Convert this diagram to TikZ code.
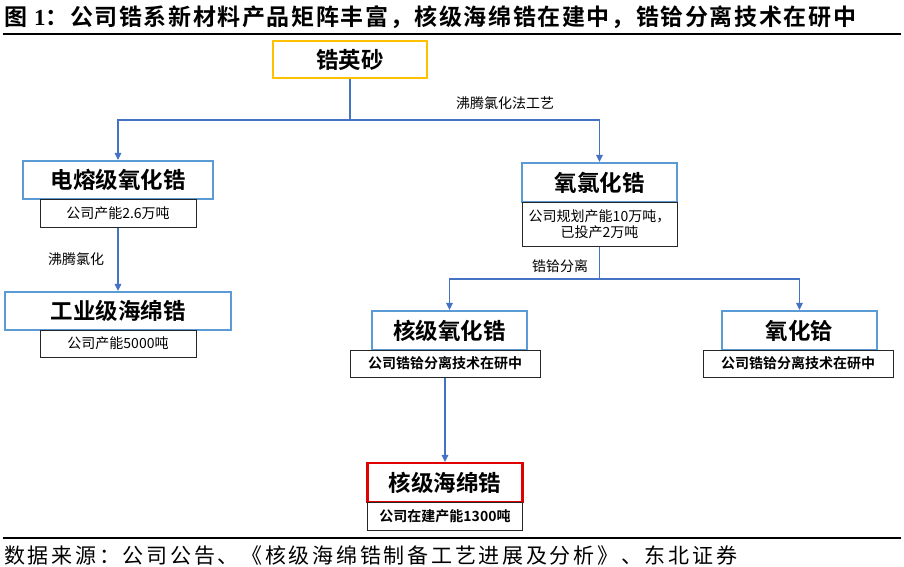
\documentclass[tikz,border=0pt]{standalone}
\usepackage{fontspec}
\usepackage{tikz}
\usetikzlibrary{arrows.meta}
\newfontfamily\cjk{Noto Sans CJK SC}[BoldFont={Noto Sans CJK SC Bold}]
\newfontfamily\cjktitle{Noto Sans CJK SC Bold}[LetterSpace=7]
\newfontfamily\cjkfoot{Noto Sans CJK SC}[LetterSpace=13]
\newfontfamily\numserif{Liberation Serif}[BoldFont={Liberation Serif Bold}]
\definecolor{colorBox}{HTML}{5B9BD5}
\definecolor{colorLine}{HTML}{4472C4}
\definecolor{colorGold}{HTML}{FFC000}
\definecolor{colorRed}{HTML}{E00000}

\begin{document}
\begin{tikzpicture}[x=1pt, y=-1pt,
    mainbox/.style={draw=colorBox, line width=2.2pt, fill=white, inner sep=0pt,
        minimum width=155pt, minimum height=39pt, font=\cjk\bfseries\fontsize{22.5}{22.5}\selectfont},
    capbox/.style={draw=black!85, line width=1pt, fill=white, inner sep=0pt,
        minimum width=190pt, minimum height=27pt, font=\cjk\fontsize{14}{16}\selectfont},
    boldcap/.style={capbox, font=\cjk\bfseries\fontsize{14}{16}\selectfont},
    link/.style={draw=colorLine, line width=1.3pt},
    flow/.style={link, -{Triangle[width=6.5pt,length=7pt]}},
    note/.style={font=\cjk\fontsize{14}{16}\selectfont}]
        \useasboundingbox (0,0) rectangle (904,567);
        % title and rules
        \node[anchor=west, inner sep=0pt, font=\cjktitle\fontsize{23}{23}\selectfont] (title) at (4,17)
            {图 {\numserif\bfseries 1}：公司锆系新材料产品矩阵丰富，核级海绵锆在建中，锆铪分离技术在研中};
        \draw[line width=2pt] (3,34) -- (901,34);
        \draw[line width=2pt] (3,538) -- (901,538);
        \node[anchor=west, inner sep=0pt, font=\cjkfoot\fontsize{21}{21}\selectfont] (source) at (4,556)
            {数据来源：公司公告、《核级海绵锆制备工艺进展及分析》、东北证券};
        % products
        \node[mainbox, draw=colorGold, minimum width=154pt, minimum height=37pt] (zircon) at (350,59.5) {锆英砂};
        \node[mainbox, minimum width=190pt, minimum height=38pt] (fused) at (118,180) {电熔级氧化锆};
        \node[capbox, minimum width=156pt, minimum height=28pt] (fusedcap) at (118,213) {公司产能2.6万吨};
        \node[mainbox, minimum width=226pt, minimum height=38pt] (sponge) at (118,311) {工业级海绵锆};
        \node[capbox, minimum width=156pt] (spongecap) at (118,343.5) {公司产能5000吨};
        \node[mainbox] (oxy) at (599.5,182.5) {氧氯化锆};
        \node[capbox, minimum width=155pt, minimum height=44pt, align=center] (oxycap) at (599.5,224)
            {公司规划产能10万吨，\\已投产2万吨};
        \node[mainbox] (nuclox) at (449.5,330.5) {核级氧化锆};
        \node[boldcap] (nucloxcap) at (445,363.5) {公司锆铪分离技术在研中};
        \node[mainbox] (hfox) at (799.5,330.5) {氧化铪};
        \node[boldcap] (hfoxcap) at (798,363.5) {公司锆铪分离技术在研中};
        \node[mainbox, draw=colorRed] (nuclsp) at (445,482.5) {核级海绵锆};
        \node[boldcap, minimum width=155pt, minimum height=28pt] (nuclspcap) at (445,516) {公司在建产能1300吨};
        % process links
        \coordinate (fork1) at (350,120);
        \coordinate (fork2) at (599.5,279);
        \draw[link] (zircon.south) -- (fork1);
        \draw[flow] (fork1) -| (fused.north);
        \draw[flow] (fork1) -| (oxy.north);
        \draw[flow] (fusedcap.south) -- (sponge.north);
        \draw[link] (oxycap.south) -- (fork2);
        \draw[flow] (fork2) -| (nuclox.north);
        \draw[flow] (fork2) -| (hfox.north);
        \draw[flow] (nucloxcap.south) -- (nuclsp.north);
        \node[note] (boil1) at (505,103) {沸腾氯化法工艺};
        \node[note] (boil2) at (76,259) {沸腾氯化};
        \node[note] (split) at (560,266) {锆铪分离};
    \end{tikzpicture}
\end{document}
